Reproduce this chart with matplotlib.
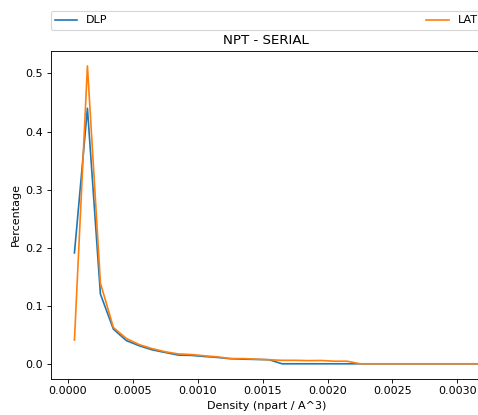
import matplotlib
matplotlib.use("Agg")
import matplotlib.pyplot as plt

density = [0.00005 + 0.0001 * k for k in range(34)]
dlp = [0.191, 0.440, 0.120, 0.0597, 0.040, 0.031, 0.024, 0.0195, 0.015, 0.0145,
       0.0126, 0.011, 0.0088, 0.008, 0.0075, 0.007, 0.0, 0.0, 0.0, 0.0,
       0.0, 0.0, 0.0] + [0.0] * 11
lat = [0.041, 0.513, 0.139, 0.0625, 0.0436, 0.033, 0.026, 0.0207, 0.017, 0.016,
       0.0138, 0.012, 0.009, 0.009, 0.008, 0.007, 0.006, 0.006, 0.0055, 0.0057,
       0.0045, 0.0045, 0.0] + [0.0] * 11
x_range = (-0.000133, 0.00319)

W, H, DPI = 478, 415, 80
fig = plt.figure(figsize=(W / DPI, H / DPI), dpi=DPI)
left, right, top, bottom = 50.7, 482.0, 51.0, 378.7
ax = fig.add_axes([left / W, (H - bottom) / H, (right - left) / W, (bottom - top) / H])
ax.plot(density, dlp, label="DLP", color="#1f77b4")
ax.plot(density, lat, label="LAT", color="#ff7f0e")
ax.set_xlim(*x_range)
ax.set_title("NPT - SERIAL", fontsize=12)
ax.set_xlabel("Density (npart / A^3)")
ax.set_ylabel("Percentage")
ax.legend(bbox_to_anchor=(0., 1.02, 1., 0.102), loc="upper left", ncol=2,
          mode="expand", borderaxespad=0.)
fig.savefig("out.png", dpi=DPI)
